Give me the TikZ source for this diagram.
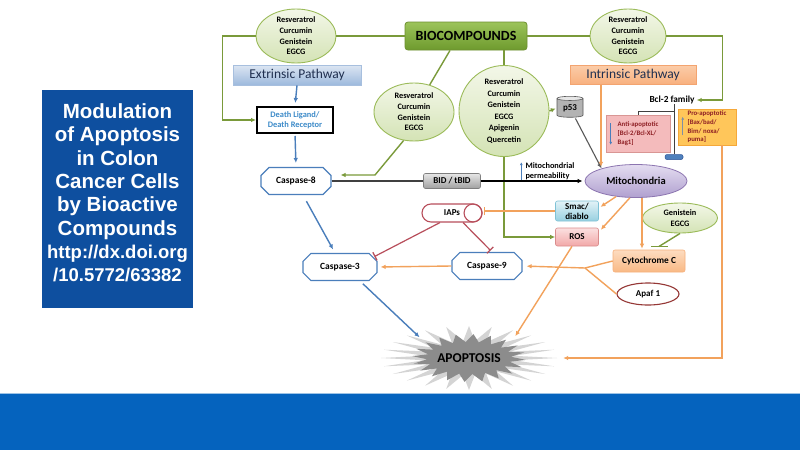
\documentclass[tikz,border=0pt]{standalone}
\usepackage{fontspec}
\setmainfont{Carlito}
\newfontfamily\titlefont{Liberation Sans}
\usetikzlibrary{shapes.geometric,shapes.misc,arrows.meta,calc}
\definecolor{gline}{HTML}{7A9A3A}
\definecolor{oline}{HTML}{F2A25C}
\definecolor{bline}{HTML}{4A7EBB}
\definecolor{rline}{HTML}{B84E5B}
\definecolor{ellA}{HTML}{F3F7E8}
\definecolor{ellB}{HTML}{D4E3B5}
\definecolor{ellD}{HTML}{9BBB59}
\definecolor{band}{HTML}{0563BE}
\definecolor{bandline}{HTML}{9DC3E6}
\definecolor{titlebg}{HTML}{0E4F9F}
\definecolor{darkred}{HTML}{8E1F24}
\definecolor{dltext}{HTML}{3D8BC9}
\definecolor{pathtext}{HTML}{1F2F4F}
\definecolor{bioA}{HTML}{9CC45A}
\definecolor{bioB}{HTML}{6E9A2E}
\definecolor{bioD}{HTML}{6E9030}
\definecolor{extA}{HTML}{DCE6F2}
\definecolor{extB}{HTML}{9DB9DD}
\definecolor{extD}{HTML}{A7BFDE}
\definecolor{intA}{HTML}{FBCCA8}
\definecolor{intB}{HTML}{F8B07E}
\definecolor{intD}{HTML}{F3A470}
\definecolor{antiF}{HTML}{F4BBBC}
\definecolor{antiD}{HTML}{D99694}
\definecolor{proF}{HTML}{FFC65A}
\definecolor{proD}{HTML}{F5A83A}
\definecolor{pillF}{HTML}{4F81BD}
\definecolor{pillD}{HTML}{2F5597}
\definecolor{mitoA}{HTML}{E4DDF0}
\definecolor{mitoB}{HTML}{B0A0D0}
\definecolor{mitoD}{HTML}{8C75B0}
\definecolor{bidA}{HTML}{E6E6E6}
\definecolor{bidB}{HTML}{A0A0A0}
\definecolor{bidD}{HTML}{7F7F7F}
\definecolor{cylB}{HTML}{B3B3B3}
\definecolor{cylE}{HTML}{E6E6E6}
\definecolor{cylD}{HTML}{595959}
\definecolor{smacA}{HTML}{E2F2F7}
\definecolor{smacB}{HTML}{98D0E0}
\definecolor{smacD}{HTML}{7FC2D6}
\definecolor{rosA}{HTML}{FBE0E0}
\definecolor{rosB}{HTML}{F2A8A8}
\definecolor{rosD}{HTML}{D98C8C}
\definecolor{cytA}{HTML}{FDDCC0}
\definecolor{cytB}{HTML}{F9B985}
\definecolor{cytD}{HTML}{F6B07C}
\definecolor{apafD}{HTML}{953735}
\definecolor{burstL}{HTML}{D4D4D4}
\definecolor{burstD}{HTML}{8C8C8C}
\definecolor{proArr}{HTML}{7F8FA6}
\definecolor{darkgr}{HTML}{595959}
\definecolor{brk}{HTML}{404040}
\tikzset{
  every node/.style={inner sep=0pt},
  comp/.style={ellipse, draw=ellD, line width=0.9pt, top color=ellA, bottom color=ellB, align=center, font=\bfseries\fontsize{8.3}{10.7}\selectfont},
  casp/.style={chamfered rectangle, chamfered rectangle xsep=4pt, chamfered rectangle ysep=4pt, draw=bline, line width=1.1pt, fill=white, minimum width=70pt, minimum height=27pt, font=\bfseries\fontsize{9.5}{11}\selectfont},
  biobox/.style={rounded corners=3pt, top color=bioA, bottom color=bioB, draw=bioD, line width=0.8pt, minimum width=122pt, minimum height=28pt, font=\bfseries\fontsize{14}{16}\selectfont},
  extbox/.style={top color=extA, bottom color=extB, draw=extD, line width=0.6pt, minimum width=128pt, minimum height=20pt, text=pathtext, font=\fontsize{13.5}{15}\selectfont},
  intbox/.style={top color=intA, bottom color=intB, draw=intD, line width=0.6pt, minimum width=126pt, minimum height=19pt, text=pathtext, font=\fontsize{13.5}{15}\selectfont},
  dlbox/.style={draw=black, line width=2pt, fill=white, minimum width=76pt, minimum height=26pt, align=center, text=dltext, font=\bfseries\fontsize{8.4}{10}\selectfont},
  smallbold/.style={font=\bfseries\fontsize{9.3}{11}\selectfont},
  antibox/.style={fill=antiF, draw=antiD, line width=0.6pt, minimum width=64pt, minimum height=37pt, align=left, text=darkred, font=\bfseries\fontsize{6.8}{9}\selectfont},
  probox/.style={fill=proF, draw=proD, line width=0.6pt, minimum width=58pt, minimum height=36pt, align=left, text=darkred, font=\bfseries\fontsize{6.8}{8.6}\selectfont},
  pillnode/.style={rounded corners=2pt, fill=pillF, draw=pillD, line width=0.5pt, minimum width=18pt, minimum height=5pt},
  mitonode/.style={ellipse, top color=mitoA, bottom color=mitoB, draw=mitoD, line width=0.8pt, minimum width=102pt, minimum height=33pt, font=\bfseries\fontsize{10.5}{12}\selectfont},
  bidbox/.style={rounded corners=2pt, top color=bidA, bottom color=bidB, draw=bidD, line width=0.6pt, minimum width=57pt, minimum height=15pt, font=\bfseries\fontsize{9}{11}\selectfont},
  cylnode/.style={cylinder, shape border rotate=90, aspect=0.3, minimum width=26pt, minimum height=21pt, cylinder uses custom fill, cylinder body fill=cylB, cylinder end fill=cylE, draw=cylD, line width=0.6pt, font=\bfseries\fontsize{9}{11}\selectfont},
  iapnode/.style={rounded corners=9pt, draw=rline, line width=1.1pt, fill=white, minimum width=60pt, minimum height=18pt, font=\bfseries\fontsize{9}{11}\selectfont},
  smacbox/.style={rounded corners=2pt, top color=smacA, bottom color=smacB, draw=smacD, line width=0.6pt, minimum width=43pt, minimum height=20pt, align=center, font=\bfseries\fontsize{9}{10}\selectfont},
  rosbox/.style={rounded corners=2pt, top color=rosA, bottom color=rosB, draw=rosD, line width=0.6pt, minimum width=43pt, minimum height=18pt, font=\bfseries\fontsize{9}{11}\selectfont},
  cytbox/.style={rounded corners=2pt, top color=cytA, bottom color=cytB, draw=cytD, line width=0.6pt, minimum width=72pt, minimum height=22pt, font=\bfseries\fontsize{9.3}{11}\selectfont},
  apafnode/.style={ellipse, draw=apafD, line width=1.1pt, fill=white, minimum width=62pt, minimum height=22pt, font=\bfseries\fontsize{9}{11}\selectfont},
  apopnode/.style={ellipse, minimum width=150pt, minimum height=50pt, font=\bfseries\fontsize{13.5}{15}\selectfont},
  gln/.style={draw=gline, line width=1.4pt},
  garr/.style={gln, -{Latex[length=5pt,width=4.5pt]}},
  oln/.style={draw=oline, line width=1.4pt},
  oarr/.style={oln, -{Latex[length=5pt,width=4.5pt]}},
  oinh/.style={oln, -{Bar[width=8pt,line width=1.4pt]}},
  barr/.style={draw=bline, line width=1.4pt, -{Latex[length=5pt,width=4.5pt]}},
  rinh/.style={draw=rline, line width=1.2pt, -{Bar[width=9pt,line width=1.3pt]}},
  karr/.style={draw=black, line width=1.2pt, -{Latex[length=5pt,width=4.5pt]}},
  darr/.style={draw=darkgr, line width=1.1pt, -{Latex[length=5pt,width=4.5pt]}},
  bk/.style={draw=brk, line width=0.9pt}
}
\newcommand{\urlsz}{\fontsize{18.5}{23.3}\selectfont}
\begin{document}
\begin{tikzpicture}[x=1pt,y=-1pt]
\useasboundingbox (0,0) rectangle (800,450);
\fill[white] (0,0) rectangle (800,450);
\fill[band] (0,393) rectangle (800,450);
\draw[bandline, line width=1pt] (0,393.5) -- (800,393.5);

% title
\node[fill=titlebg, minimum width=151pt, minimum height=218pt] (titlebox) at (117.5,199) {};
\node[text=white, align=center, font=\titlefont\bfseries\fontsize{20.5}{23.3}\selectfont] (title) at (117.5,193)
 {Modulation\\of Apoptosis\\in Colon\\Cancer Cells\\by Bioactive\\Compounds\\{\urlsz http://dx.doi.org}\\{\urlsz /10.5772/63382}};

% starburst
\begin{scope}[shift={(469,358)}]
\fill[burstL] (88,0) \foreach \i [evaluate=\i as \ang using \i*7.5, evaluate=\i as \ra using {88-43*mod(\i,2)}, evaluate=\i as \rb using {32-15*mod(\i,2)}] in {1,...,47} { -- ({\ra*cos(\ang)},{\rb*sin(\ang)}) } -- cycle;
\fill[burstD] ({57*cos(4.5)},{24*sin(4.5)}) \foreach \i [evaluate=\i as \ang using 4.5+\i*9, evaluate=\i as \ra using {57-15*mod(\i,2)}, evaluate=\i as \rb using {24-8*mod(\i,2)}] in {1,...,39} { -- ({\ra*cos(\ang)},{\rb*sin(\ang)}) } -- cycle;
\end{scope}
\node[apopnode] (apop) at (469,358) {APOPTOSIS};

% nodes
\node[comp, minimum width=80pt, minimum height=54pt] (tl) at (296,36) {Resveratrol\\Curcumin\\Genistein\\EGCG};
\node[biobox] (bio) at (466,36) {BIOCOMPOUNDS};
\node[comp, minimum width=76pt, minimum height=54pt] (tr) at (628,36) {Resveratrol\\Curcumin\\Genistein\\EGCG};
\node[extbox] (ext) at (297,75) {Extrinsic Pathway};
\node[intbox] (int) at (633,75) {Intrinsic Pathway};
\node[dlbox] (dl) at (295,120) {Death Ligand/\\Death Receptor};
\node[comp, minimum width=80pt, minimum height=58pt] (lm) at (414,112) {Resveratrol\\Curcumin\\Genistein\\EGCG};
\node[comp, minimum width=90pt, minimum height=86pt, font=\bfseries\fontsize{8.3}{11.5}\selectfont] (mid) at (504,111) {Resveratrol\\Curcumin\\Genistein\\EGCG\\Apigenin\\Quercetin};
\node[cylnode] (p53) at (570,108) {p53};
\node[smallbold] (bcl) at (672,100) {Bcl-2 family};
\node[antibox] (anti) at (638,134) {Anti-apoptotic\\{[}Bcl-2/Bcl-XL/\\Bag1]};
\node[probox] (pro) at (707,127) {Pro-apoptotic\\{[}Bax/bad/\\Bim/ noxa/\\puma]};
\node[pillnode] (pill) at (674,157) {};
\node[mitonode] (mito) at (636,181) {Mitochondria};
\node[align=left, font=\bfseries\fontsize{8.3}{10}\selectfont] (perm) at (550,171) {Mitochondrial\\permeability};
\node[bidbox] (bid) at (452,181) {BID / tBID};
\node[casp] (c8) at (296,181) {Caspase-8};
\node[iapnode] (iaps) at (452,213) {IAPs\hspace{10pt}};
\node[smacbox] (smac) at (577,211) {Smac/\\diablo};
\node[rosbox] (ros) at (577,237) {ROS};
\node[casp, minimum width=74pt] (c3) at (340,267) {Caspase-3};
\node[casp] (c9) at (487,266) {Caspase-9};
\node[cytbox] (cytc) at (649,261) {Cytochrome C};
\node[comp, minimum width=75pt, minimum height=30pt] (ge) at (680,218) {Genistein\\EGCG};
\node[apafnode] (apaf) at (648,294) {Apaf 1};
\coordinate (j) at (585,268);

% IAPs circle end
\draw[rline, line width=1.1pt] ([xshift=-9.5pt]iaps.east) circle (9pt);

% small arrows inside boxes
\draw[bline, line width=1pt, -{Latex[length=3pt,width=3pt]}] ([xshift=-4pt]perm.south west) -- ([xshift=-4pt]perm.north west);
\draw[bline, line width=1pt, -{Latex[length=3pt,width=3pt]}] ([xshift=5pt,yshift=-8pt]anti.north west) -- ([xshift=5pt,yshift=8pt]anti.south west);
\draw[proArr, line width=1pt, -{Latex[length=3pt,width=3pt]}] ([xshift=5pt,yshift=10pt]pro.south west) -- ([xshift=5pt,yshift=-8pt]pro.north west);

% green connectors
\draw[gln] (tl.east) -- (bio.west);
\draw[gln] (bio.east) -- (tr.west);
\draw[garr] (tl.west) -- ++(-33,0) |- (dl.west);
\draw[garr, shorten >=2pt] (tr.east) -- ++(56,0) |- (bcl.east);
\draw[gln] ([xshift=-16pt]bio.south) -- (lm.60);
\draw[gln] (bio.south -| mid.north) -- (mid.north);
\draw[garr] (lm.250) -- (375,175) -- ([xshift=9pt,yshift=6pt]c8.east);
\draw[garr, shorten >=1pt] (mid.east) -- (p53.west);
\draw[garr] (mid.south) |- (ros.west);
\draw[gln] (ge.south) -- ++(-21,13);
\draw[gln] ($(ge.south)+(-29,13)$) -- ++(17,0);

% Bcl-2 bracket
\draw[bk] (bcl.south -| pill.north) -- (pill.north);
\draw[bk] (anti.north) -- ++(0,-4) -| (pill.north);

% blue connectors
\draw[barr, shorten >=3pt] (ext.south) -- (dl.north);
\draw[barr, shorten <=2pt, shorten >=4pt] (dl.south) -- (c8.north);
\draw[barr, shorten <=7pt, shorten >=4pt] ([xshift=7pt]c8.south) -- ([xshift=-5pt]c3.north);
\draw[barr, shorten <=4pt, shorten >=2pt] ([xshift=20pt]c3.south) -- (apop.158);

% black connectors
\draw[bk, line width=1.2pt] (c8.east) -- (bid.west);
\draw[karr, shorten >=2pt] (bid.east) -- (mito.west);
\draw[darr, shorten <=1pt] ([xshift=5pt]p53.south) -- (mito.160);

% orange connectors
\draw[oarr] ([xshift=-32pt]int.south) -- ++(0,82);
\draw[oarr] ([xshift=15pt]pro.south) |- ([xshift=19pt]apop.east);
\draw[oarr, shorten >=2pt] (mito.218) -- ([yshift=3pt]smac.east);
\draw[oarr, shorten >=3pt] (mito.250) -- ([yshift=5pt]ros.east);
\draw[oarr, shorten >=1pt] ([xshift=6pt]mito.south) -- ([xshift=-7pt]cytc.north);
\draw[oinh, shorten >=1pt] (smac.west) -- (smac.west -| iaps.east);
\draw[oln] (cytc.west) -- (j);
\draw[oln] (apaf.west) -- (j);
\draw[oarr, shorten >=4pt] (j) -- (c9.east);
\draw[oarr, shorten >=3pt] (c9.west) -- (c3.east);
\draw[oarr, shorten >=2pt] ([xshift=-5pt]ros.south) -- (apop.24);

% red inhibitions
\draw[rinh, shorten >=1pt] ([xshift=-12pt]iaps.south) -- (c3.north east);
\draw[rinh, shorten >=2pt] ([xshift=11pt]iaps.south) -- ([xshift=5pt]c9.north);
\end{tikzpicture}
\end{document}
